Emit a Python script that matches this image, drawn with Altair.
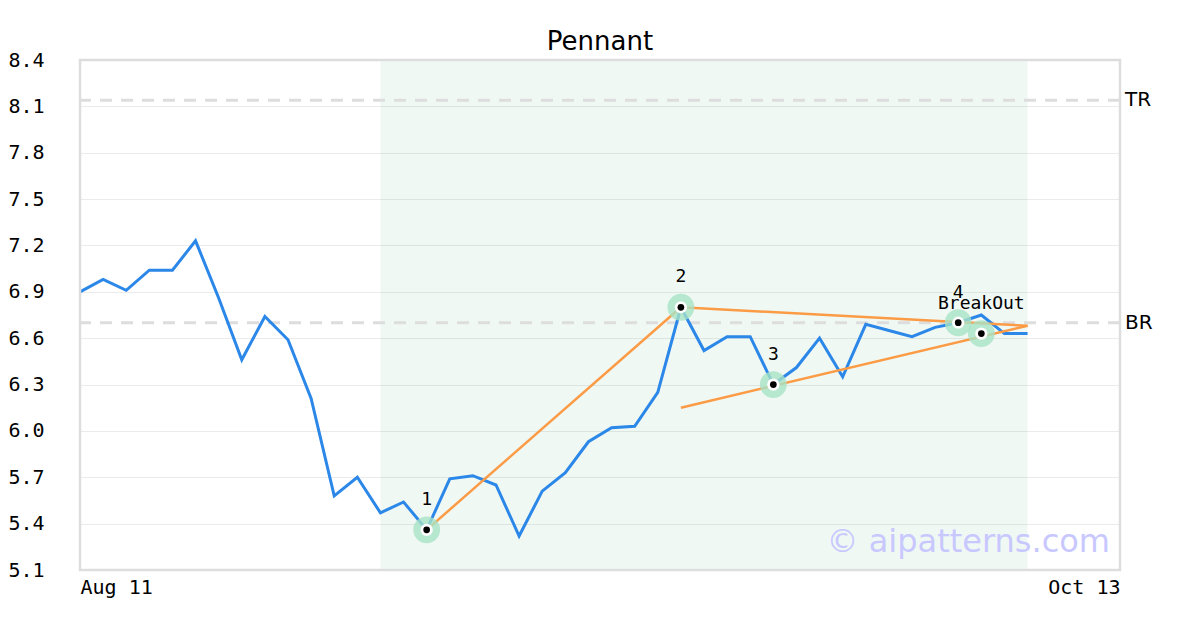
import altair as alt
import pandas as pd

# ---- data ----
idx = list(range(42))
prices = [6.90, 6.98, 6.91, 7.04, 7.04, 7.23, 6.86, 6.46, 6.74, 6.59,
          6.21, 5.58, 5.70, 5.47, 5.54, 5.36, 5.69, 5.71, 5.65, 5.32,
          5.61, 5.73, 5.93, 6.02, 6.03, 6.25, 6.80, 6.52, 6.61, 6.61,
          6.30, 6.41, 6.60, 6.35, 6.69, 6.65, 6.61, 6.67, 6.70, 6.75,
          6.63, 6.63]

pivot_idx = [15, 26, 30, 38]
pivot_val = [5.36, 6.80, 6.30, 6.70]
pivot_lbl = ["1", "2", "3", "4"]

breakout_idx = [39]
breakout_val = [6.63]
breakout_lbl = ["BreakOut"]

trend_id = ["a", "a", "b", "b", "c", "c"]
trend_x = [15, 26, 26, 41, 26, 41]
trend_y = [5.36, 6.80, 6.80, 6.68, 6.15, 6.68]

shade_start = [13]
shade_end = [41]

level_names = ["TR", "BR"]
level_vals = [8.14, 6.70]

x_tick_vals = [0, 45]
x_tick_text = ["Aug 11", "Oct 13"]
y_ticks = [5.1, 5.4, 5.7, 6.0, 6.3, 6.6, 6.9, 7.2, 7.5, 7.8, 8.1, 8.4]

watermark = ["© aipatterns.com"]
title_text = "Pennant"

# ---- tables ----
price_df = pd.DataFrame({"i": idx, "v": prices})
pivot_df = pd.DataFrame({"i": pivot_idx, "v": pivot_val, "t": pivot_lbl})
bo_df = pd.DataFrame({"i": breakout_idx, "v": breakout_val, "t": breakout_lbl})
trend_df = pd.DataFrame({"g": trend_id, "i": trend_x, "v": trend_y})
shade_df = pd.DataFrame({"s": shade_start, "e": shade_end})
level_df = pd.DataFrame({"n": level_names, "v": level_vals})
wm_df = pd.DataFrame({"t": watermark})
marks_df = pd.concat([pivot_df, bo_df], ignore_index=True)
frame_df = pd.DataFrame({"k": [0]})

MONO = "DejaVu Sans Mono"
xscale = alt.Scale(domain=[0, 45], nice=False, zero=False)
yscale = alt.Scale(domain=[5.1, 8.4], nice=False, zero=False)

label_expr = "datum.value == 0 ? '%s' : '%s'" % (x_tick_text[0], x_tick_text[1])
xaxis = alt.Axis(values=x_tick_vals, labelExpr=label_expr, labelFlush=True,
                 grid=False, domain=False, ticks=False, tickSize=0,
                 labelFont=MONO, labelFontSize=20, labelColor="#000",
                 labelPadding=7, labelBaseline="top", title=None)
yaxis = alt.Axis(values=y_ticks, format=".1f", grid=True, gridColor="#ebebeb",
                 gridWidth=1, domain=False, ticks=False, tickSize=0,
                 labelFont=MONO, labelFontSize=20, labelColor="#000",
                 labelPadding=36, labelAlign="right", title=None)

X = alt.X("i:Q", scale=xscale, axis=xaxis)
Y = alt.Y("v:Q", scale=yscale, axis=yaxis)

shade = alt.Chart(shade_df).mark_rect(color="#2ca06a", opacity=0.07).encode(
    x=alt.X("s:Q", scale=xscale, axis=xaxis), x2="e:Q",
    y=alt.value(0), y2=alt.value(510))

levels = alt.Chart(level_df).mark_rule(color="#dddddd", strokeWidth=3,
                                       strokeDash=[12, 9]).encode(
    y=alt.Y("v:Q", scale=yscale, axis=yaxis))

level_text = alt.Chart(level_df).mark_text(align="left", baseline="middle",
                                           font="DejaVu Sans", fontSize=20,
                                           color="#000").encode(
    x=alt.value(1045), y=alt.Y("v:Q", scale=yscale, axis=yaxis), text="n:N")

price_line = alt.Chart(price_df).mark_line(color="#2b87e8", strokeWidth=3).encode(
    x=X, y=Y)

trend = alt.Chart(trend_df).mark_line(color="#fb9b45", strokeWidth=2.5).encode(
    x=X, y=Y, detail="g:N")

halo = alt.Chart(marks_df).mark_point(filled=True, size=720, color="#a8e2c6",
                                      opacity=0.8).encode(x=X, y=Y)
white = alt.Chart(marks_df).mark_point(filled=True, size=150, color="#ffffff",
                                       opacity=1).encode(x=X, y=Y)
dot = alt.Chart(marks_df).mark_point(filled=True, size=45, color="#000000",
                                     opacity=1).encode(x=X, y=Y)

labels = alt.Chart(marks_df).mark_text(dy=-30, font=MONO, fontSize=18,
                                       color="#000").encode(x=X, y=Y, text="t:N")

wm = alt.Chart(wm_df).mark_text(align="right", baseline="middle",
                                font="DejaVu Sans", fontSize=32,
                                color="#c8c8ff").encode(
    x=alt.value(1030), y=alt.value(482), text="t:N")

frame = alt.Chart(frame_df).mark_rect(fillOpacity=0, stroke="#dddddd",
                                      strokeWidth=2.5).encode(
    x=alt.value(0), x2=alt.value(1040), y=alt.value(0), y2=alt.value(510))

chart = alt.layer(shade, levels, level_text, price_line, trend, halo, white,
                  dot, labels, wm, frame).properties(
    width=1040, height=510,
    title=alt.TitleParams(title_text, font="DejaVu Sans", fontSize=26,
                          fontWeight="normal", color="#000", offset=10, dy=15),
    autosize=alt.AutoSizeParams(type="none"),
    padding={"left": 72, "top": 52, "right": 72, "bottom": 52},
).configure_view(stroke=None).configure(background="#ffffff")

chart.save("out.html", embed_options={"renderer": "svg", "actions": False})
